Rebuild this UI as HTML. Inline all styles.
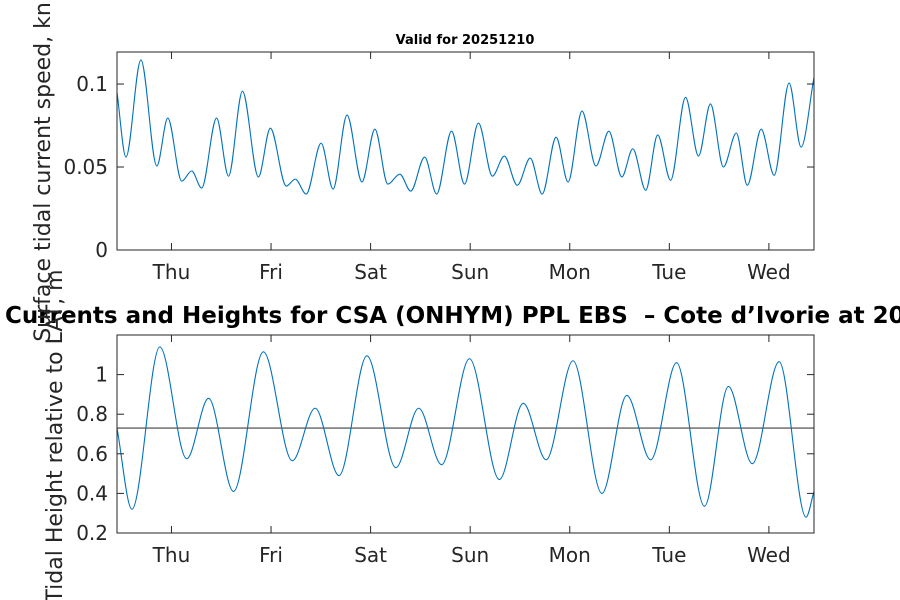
<!DOCTYPE html>
<html><head><meta charset="utf-8">
<style>
body{margin:0;background:#fff;}
svg{display:block;font-family:"DejaVu Sans","Liberation Sans",sans-serif;}
</style></head>
<body>
<svg width="900" height="600" viewBox="0 0 900 600">
<g id="top"></g>
<g id="bot"></g>
<text x="465" y="44" font-size="13" font-weight="bold" text-anchor="middle">Valid for 20251210</text>
<text x="5" y="323" font-size="23" font-weight="bold" text-anchor="start" xml:space="preserve">Currents and Heights for CSA (ONHYM) PPL EBS  – Cote d’Ivorie at 20251210</text>
<text transform="translate(50,172) rotate(-90)" font-size="22" fill="#262626" text-anchor="middle">Surface tidal current speed, kn</text>
<text transform="translate(62,436) rotate(-90)" font-size="22" fill="#262626" text-anchor="middle">Tidal Height relative to LAT, m</text>
</svg>
<script>
const dayLabels=["Thu","Fri","Sat","Sun","Mon","Tue","Wed"];
const dayTicks=[0.547,1.547,2.547,3.547,4.547,5.547,6.547];
const speedTicks=[0,0.05,0.1];
const speedTickLabels=["0","0.05","0.1"];
const heightTicks=[0.2,0.4,0.6,0.8,1.0];
const heightTickLabels=["0.2","0.4","0.6","0.8","1"];
const datumLevel=0.73;
const speedX=[0,0.09,0.24,0.40,0.51,0.65,0.75,0.85,1.00,1.12,1.26,1.42,1.54,1.70,1.79,1.90,2.05,2.17,2.31,2.46,2.59,2.72,2.84,2.95,3.09,3.21,3.36,3.49,3.63,3.77,3.89,4.02,4.15,4.27,4.41,4.53,4.67,4.81,4.94,5.07,5.18,5.31,5.43,5.56,5.71,5.84,5.96,6.09,6.22,6.33,6.47,6.60,6.75,6.87,7.0];
const speedY=[0.095,0.056,0.1145,0.0506,0.0795,0.0415,0.0476,0.0373,0.0795,0.0445,0.0957,0.044,0.0734,0.0385,0.0427,0.0337,0.0644,0.0367,0.0813,0.041,0.0728,0.0397,0.0457,0.0355,0.056,0.0337,0.0716,0.0397,0.0765,0.0445,0.0566,0.039,0.0554,0.0337,0.068,0.041,0.0837,0.0506,0.0716,0.044,0.061,0.036,0.0693,0.042,0.092,0.0566,0.088,0.05,0.0705,0.039,0.0728,0.045,0.1006,0.062,0.104];
const heightX=[0,0.15,0.43,0.70,0.92,1.17,1.47,1.76,1.99,2.23,2.51,2.80,3.03,3.26,3.54,3.84,4.08,4.31,4.58,4.87,5.12,5.36,5.62,5.90,6.14,6.38,6.65,6.92,7.0];
const heightY=[0.73,0.32,1.14,0.575,0.88,0.41,1.115,0.565,0.83,0.49,1.095,0.53,0.83,0.545,1.08,0.47,0.855,0.57,1.07,0.40,0.895,0.57,1.06,0.335,0.94,0.55,1.065,0.28,0.41];
const NS="http://www.w3.org/2000/svg";
function mk(t,a,p){const e=document.createElementNS(NS,t);for(const k in a)e.setAttribute(k,a[k]);p.appendChild(e);return e;}
function panel(g,top,bot,ymin,ymax,yt,ytl,xs,ys,hline){
  const L=117,R=814;
  const X=d=>L+(R-L)*d/7;
  const Y=v=>bot-(bot-top)*(v-ymin)/(ymax-ymin);
  const cid="c"+top;
  const cp=mk("clipPath",{id:cid},g);mk("rect",{x:L,y:top,width:R-L,height:bot-top},cp);
  if(hline!==undefined){const h=mk("line",{x1:L,x2:R,y1:Y(hline),y2:Y(hline),stroke:"#404040","stroke-width":1.2},g);
    
    }
  let d="M"+X(xs[0])+","+Y(ys[0]);
  const n=xs.length;
  const tan=[];
  for(let i=0;i<n;i++){
    if(i==0)tan.push((ys[1]-ys[0])/(xs[1]-xs[0]));
    else if(i==n-1)tan.push((ys[n-1]-ys[n-2])/(xs[n-1]-xs[n-2]));
    else{const a=ys[i]-ys[i-1],b=ys[i+1]-ys[i];tan.push(a*b<=0?0:(ys[i+1]-ys[i-1])/(xs[i+1]-xs[i-1]));}
  }
  for(let i=0;i<n-1;i++){
    const h=xs[i+1]-xs[i];
    const c1x=xs[i]+h/3,c1y=ys[i]+tan[i]*h/3,c2x=xs[i+1]-h/3,c2y=ys[i+1]-tan[i+1]*h/3;
    d+=" C"+X(c1x)+","+Y(c1y)+" "+X(c2x)+","+Y(c2y)+" "+X(xs[i+1])+","+Y(ys[i+1]);
  }
  const p=mk("path",{d:d,fill:"none",stroke:"#0072BD","stroke-width":1.1,"clip-path":"url(#"+cid+")"},g);
  
  
  const box=mk("rect",{x:L,y:top,width:R-L,height:bot-top,fill:"none",stroke:"#262626","stroke-width":1},g);
  
  
  dayTicks.forEach((t,i)=>{
    const x=X(t);
    mk("line",{x1:x,x2:x,y1:bot,y2:bot-7,stroke:"#262626"},g);
    mk("line",{x1:x,x2:x,y1:top,y2:top+7,stroke:"#262626"},g);
    const tx=mk("text",{x:x,y:bot+29,"font-size":20,fill:"#262626","text-anchor":"middle"},g);
    tx.textContent=dayLabels[i];
    
    
  });
  yt.forEach((v,i)=>{
    const y=Y(v);
    mk("line",{x1:L,x2:L+7,y1:y,y2:y,stroke:"#262626"},g);
    mk("line",{x1:R,x2:R-7,y1:y,y2:y,stroke:"#262626"},g);
    const tx=mk("text",{x:L-9,y:y+7,"font-size":20,fill:"#262626","text-anchor":"end"},g);
    tx.textContent=ytl[i];
    
    
  });
}
panel(document.getElementById("top"),52,250,0,0.1193,speedTicks,speedTickLabels,speedX,speedY);
panel(document.getElementById("bot"),335,533,0.2,1.2,heightTicks,heightTickLabels,heightX,heightY,datumLevel);
</script>
</body></html>
